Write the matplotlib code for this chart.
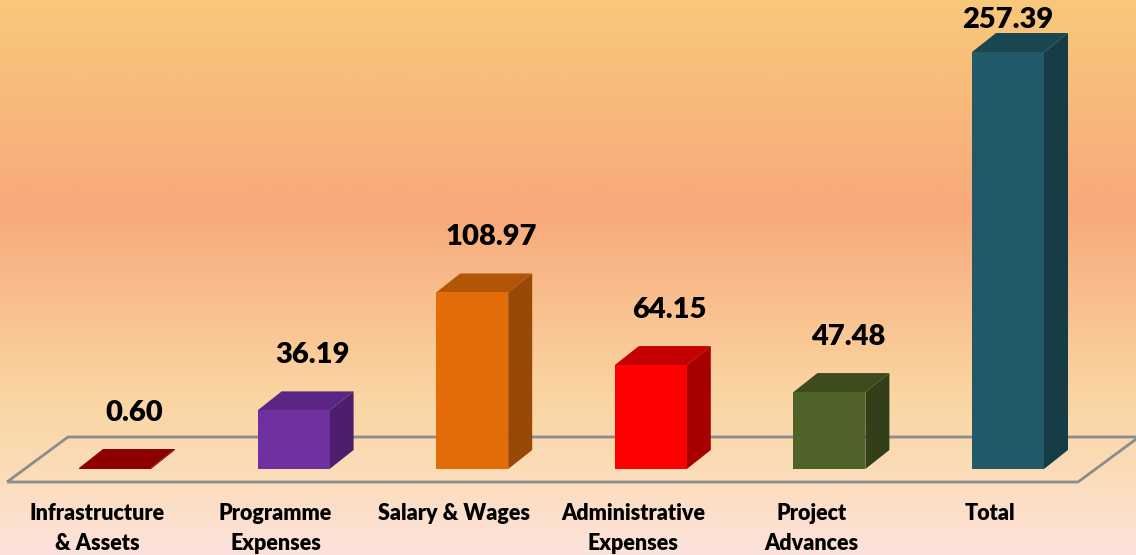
import numpy as np
import matplotlib.pyplot as plt
from matplotlib.colors import LinearSegmentedColormap
from matplotlib.patches import Polygon

# Datos
categories = ['Infrastructure\n& Assets', 'Programme\nExpenses', 'Salary & Wages',
              'Administrative\nExpenses', 'Project\nAdvances', 'Total']
values = [0.60, 36.19, 108.97, 64.15, 47.48, 257.39]
labels = ['0.60', '36.19', '108.97', '64.15', '47.48', '257.39']

# Colores (frente, lado, tapa)
front_colors = ['#9a0000', '#7030A0', '#E36C09', '#FF0000', '#4F6228', '#215968']
side_colors = ['#6e0000', '#4b1f6e', '#984807', '#a60000', '#333f19', '#163c46']
top_colors = ['#8e0000', '#5b2586', '#b35508', '#c40000', '#3d4b1e', '#1a4652']

FONT = 'Lato'
W, H = 1136, 555
px_x = 178.6          # pixeles por categoria
px_y = 1.62           # pixeles por unidad
x0_px, y0_px = 115, 469

bar_w = 72 / px_x
dx = 24 / px_x
dy = 19 / px_y

fig = plt.figure(figsize=(W / 100, H / 100), dpi=100)
ax = fig.add_axes([0, 0, 1, 1])
xmin, xmax = -x0_px / px_x, (W - x0_px) / px_x
ymin, ymax = (y0_px - H) / px_y, y0_px / px_y
ax.set_xlim(xmin, xmax)
ax.set_ylim(ymin, ymax)
ax.axis('off')

# Fondo degradado
cmap = LinearSegmentedColormap.from_list('fondo', [
    (0.0, '#fde2dc'), (0.16, '#fbdcb6'), (0.30, '#fad4a0'),
    (0.62, '#f8a97b'), (1.0, '#f9c87b')])
grad = np.linspace(0, 1, 256).reshape(-1, 1)
ax.imshow(grad, aspect='auto', cmap=cmap, origin='lower',
          extent=[xmin, xmax, ymin, ymax], zorder=0)

# Piso
floor_front = (y0_px - 482) / px_y
floor_back = (y0_px - 437) / px_y
fl, bl = (7 - x0_px) / px_x, (68 - x0_px) / px_x
fr, br = (1078 - x0_px) / px_x, (1139 - x0_px) / px_x
ax.add_patch(Polygon([(fl, floor_front), (fr, floor_front), (br, floor_back), (bl, floor_back)],
                     closed=True, fill=False, edgecolor='#8c8c8c', lw=2, zorder=1))

# Barras 3D
for i, v in enumerate(values):
    xl, xr = i - bar_w / 2, i + bar_w / 2
    ax.add_patch(Polygon([(xr, 0), (xr + dx, dy), (xr + dx, v + dy), (xr, v)],
                         closed=True, facecolor=side_colors[i], edgecolor='none', zorder=2))
    ax.add_patch(Polygon([(xl, v), (xr, v), (xr + dx, v + dy), (xl + dx, v + dy)],
                         closed=True, facecolor=top_colors[i], edgecolor='none', zorder=3))
    if v > 0:
        ax.add_patch(Polygon([(xl, 0), (xr, 0), (xr, v), (xl, v)],
                             closed=True, facecolor=front_colors[i], edgecolor='none', zorder=3))

    # Etiqueta de valor
    ly = v + dy + 36 / px_y
    lx = i + 19 / px_x
    if ly > ymax - 20 / px_y:
        ly = ymax - 20 / px_y
        lx = i
    ax.text(lx, ly, labels[i], ha='center', va='center', fontsize=21,
            fontweight='heavy', family=FONT, color='black', zorder=4)

    # Etiqueta de categoria
    ax.text(i - 18 / px_x, (y0_px - 503) / px_y, categories[i], ha='center', va='top',
            fontsize=15.5, fontweight='heavy', family=FONT, color='black',
            linespacing=1.5, zorder=4)

plt.savefig('out.png', dpi=100)
